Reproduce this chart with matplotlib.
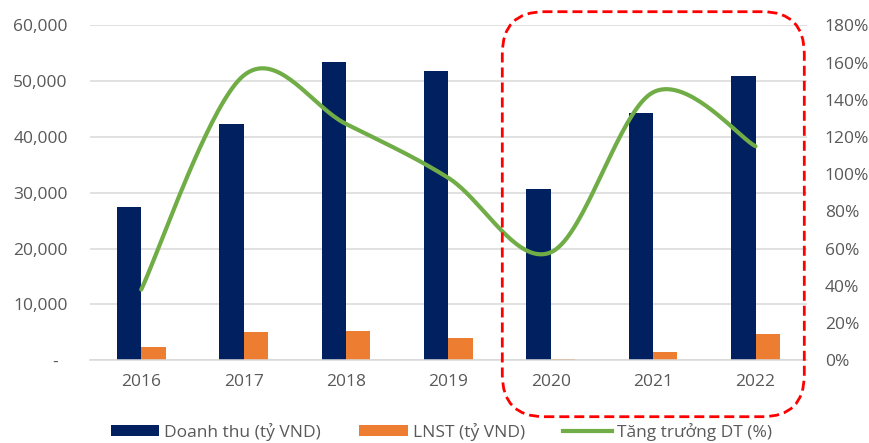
import numpy as np
import matplotlib
matplotlib.use("Agg")
import matplotlib.pyplot as plt
from matplotlib.patches import FancyBboxPatch
from matplotlib.lines import Line2D
from matplotlib.ticker import FuncFormatter, MultipleLocator

# data
years = ["2016", "2017", "2018", "2019", "2020", "2021", "2022"]
revenue = [27400, 42300, 53500, 51900, 30600, 44300, 51000]      # Doanh thu (tỷ VND)
profit = [2330, 5000, 5250, 4050, 230, 1540, 4770]              # LNST (tỷ VND)
growth = [38, 153, 127, 98, 58, 144, 115]                       # Tăng trưởng DT (%)

NAVY = "#002060"
ORANGE = "#ED7D31"
GREEN = "#70AD47"
GRAY = "#595959"
GRID = "#D9D9D9"

plt.rcParams["font.family"] = ["Open Sans", "DejaVu Sans"]
plt.rcParams["font.size"] = 12.5


def smooth(xs, ys, n=40):
    # Excel-like smoothed line: Catmull-Rom curve through the points
    xs = np.asarray(xs, float)
    ys = np.asarray(ys, float)
    px = np.concatenate([[xs[0]], xs, [xs[-1]]])
    py = np.concatenate([[ys[0]], ys, [ys[-1]]])
    outx, outy = [], []
    t = np.linspace(0, 1, n)
    for i in range(1, len(px) - 2):
        p0 = np.array([px[i], py[i]])
        p3 = np.array([px[i + 1], py[i + 1]])
        c1 = p0 + (np.array([px[i + 1], py[i + 1]]) - np.array([px[i - 1], py[i - 1]])) / 6
        c2 = p3 - (np.array([px[i + 2], py[i + 2]]) - np.array([px[i], py[i]])) / 6
        b = ((1 - t) ** 3)[:, None] * p0 + (3 * (1 - t) ** 2 * t)[:, None] * c1 \
            + (3 * (1 - t) * t ** 2)[:, None] * c2 + (t ** 3)[:, None] * p3
        outx.extend(b[:, 0])
        outy.extend(b[:, 1])
    return np.array(outx), np.array(outy)


fig = plt.figure(figsize=(8.69, 4.43), dpi=100)
ax = fig.add_axes([0.1036, 0.1867, 0.8247, 0.7562])
ax2 = ax.twinx()

x = np.arange(len(years))
w = 0.238
b1 = ax.bar(x - w / 2, revenue, w, color=NAVY, label="Doanh thu (tỷ VND)", zorder=2)
b2 = ax.bar(x + w / 2, profit, w, color=ORANGE, label="LNST (tỷ VND)", zorder=2)

ax.set_xlim(-0.5, len(years) - 0.5)
ax.set_ylim(0, 60000)
ax.yaxis.set_major_locator(MultipleLocator(10000))
ax.yaxis.set_major_formatter(FuncFormatter(lambda v, p: "-  " if v == 0 else f"{v:,.0f}"))
ax.set_xticks(x)
ax.set_xticklabels(years)
ax.grid(axis="y", color=GRID, lw=1.1, zorder=0)
ax.set_axisbelow(True)
for s in ["top", "left", "right"]:
    ax.spines[s].set_visible(False)
    ax2.spines[s].set_visible(False)
ax.spines["bottom"].set_color(GRID)
ax.spines["bottom"].set_linewidth(1.1)
ax2.spines["bottom"].set_visible(False)
ax.tick_params(axis="x", length=0, pad=10, colors=GRAY)
ax.tick_params(axis="y", length=0, pad=16, colors=GRAY)

sx, sy = smooth(x, growth)
ax2.plot(sx, sy, color=GREEN, lw=3, solid_capstyle="round", label="Tăng trưởng DT (%)")
ax2.set_ylim(0, 180)
ax2.yaxis.set_major_locator(MultipleLocator(20))
ax2.yaxis.set_major_formatter(FuncFormatter(lambda v, p: f"{v:.0f}%"))
ax2.tick_params(axis="y", length=0, pad=13, colors=GRAY)

handles = [b1, b2, Line2D([], [], color=GREEN, lw=3)]
labels = ["Doanh thu (tỷ VND)", "LNST (tỷ VND)", "Tăng trưởng DT (%)"]
leg = fig.legend(handles, labels, loc="lower center", bbox_to_anchor=(0.508, -0.03), ncol=3,
                 frameon=False, handlelength=2.8, handleheight=0.575, handletextpad=0.3,
                 columnspacing=2.2, labelcolor=GRAY)

# red dashed rounded highlight around 2020-2022
box = FancyBboxPatch((5.023, 0.263), 3.02, 4.05,
                     boxstyle="round,pad=0,rounding_size=0.42",
                     transform=fig.dpi_scale_trans, fill=False,
                     edgecolor="#FF0000", lw=2, linestyle=(0, (3.6, 1.8)), zorder=5)
fig.patches.append(box)

fig.savefig("out.png", dpi=100)
